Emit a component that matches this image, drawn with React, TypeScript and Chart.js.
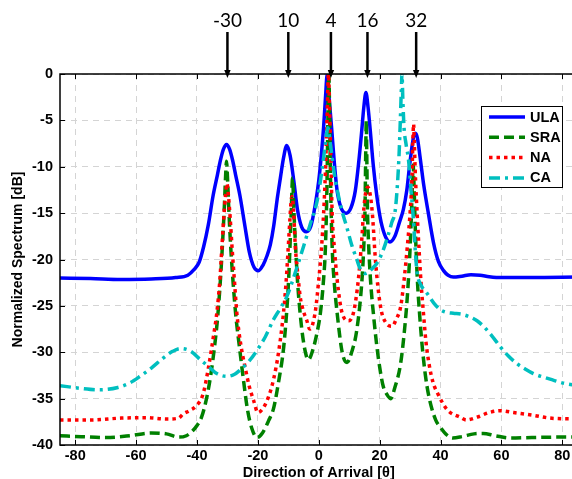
import React, { useEffect, useRef } from 'react';
import { Chart, registerables } from 'chart.js';

Chart.register(...registerables);

// ---------- data ----------
const seriesNames = ['ULA', 'SRA', 'NA', 'CA'];

const ulaAngles = [
  -85, -75, -65, -55, -47, -43, -41, -39.3, -37.8, -36.3,
  -34.7, -33.3, -32.3, -31.3, -30.3, -29.3, -28.3, -27.3, -25.9, -24.3,
  -22.8, -21.3, -19.8, -18.3, -17, -15.9, -14.8, -13.7, -12.6, -11.6,
  -10.5, -9.4, -8.2, -7, -5.6, -4.1, -2.6, -1.2, 0, 0.8,
  1.6, 2.2, 2.8, 3.4, 4.2, 5.1, 6, 7.3, 9, 10.6,
  12, 13.1, 14.1, 14.8, 15.5, 16.2, 16.9, 17.9, 19.1, 20.5,
  22, 23.4, 25, 26.5, 27.8, 28.9, 29.8, 30.6, 31.2, 31.8,
  32.4, 33.3, 34.5, 36, 37.7, 39.3, 41, 42.5, 44.2, 47,
  50, 53, 56, 60, 70, 85,
];
const ulaValues = [
  -22, -22.05, -22.15, -22.1, -21.95, -21.7, -21.1, -20.3, -18.6, -16.3,
  -13.1, -10.9, -9.3, -8.1, -7.6, -8.1, -9.3, -10.9, -13.1, -16.3,
  -19.2, -20.8, -21.2, -20.6, -19.6, -18.4, -16.4, -13.6, -11.2, -9.1,
  -7.7, -8.8, -11.5, -14.6, -16.5, -17, -16.4, -14.2, -11.5, -8.9,
  -5.7, -2.6, 0, -2.6, -5.7, -9.5, -12.5, -14.4, -15, -14.4,
  -12.6, -9.6, -6.2, -3.6, -2, -3.6, -6, -9.8, -13.2, -16,
  -17.6, -18.1, -17.5, -16, -14.6, -12.6, -10, -7.9, -6.7, -6.4,
  -6.9, -9, -12, -15, -18.2, -20.2, -21.2, -21.7, -21.9, -21.8,
  -21.65, -21.7, -21.85, -21.95, -21.95, -21.9,
];

const sraAngles = [
  -85, -78, -70, -62, -55, -50, -46, -43.5, -41.5, -40,
  -38.5, -37, -35.5, -34.2, -33.2, -32.3, -31.6, -31, -30.6, -30.3,
  -30, -29.6, -29, -28.2, -27.2, -26.1, -24.8, -23.4, -22, -20.3,
  -18.5, -16.5, -14.8, -13.2, -11.5, -10.4, -9.9, -9.4, -9, -8.6,
  -8.2, -7.7, -7, -6, -5, -4, -3.4, -2, -0.5, 0.6,
  1.5, 2.2, 2.7, 3, 3.3, 3.6, 3.9, 4.4, 5.1, 6.05,
  7.7, 9.3, 10.8, 12.5, 14.2, 14.8, 15.2, 15.45, 15.6, 15.75,
  16, 16.4, 17, 18, 19.1, 20.2, 21.2, 22.3, 23.6, 25,
  26.9, 28.2, 29.1, 29.9, 30.4, 30.75, 31, 31.3, 31.7, 32.4,
  33.2, 34, 35, 36.2, 38.4, 40, 42, 44, 47, 51,
  54, 58, 63, 70, 78, 85,
];
const sraValues = [
  -39, -39.1, -39.2, -39, -38.7, -38.8, -39.15, -39, -38.5, -37.9,
  -37, -35.2, -32.5, -29.3, -26.2, -22.2, -18.2, -14.2, -11, -9.4,
  -11, -14.2, -18.2, -22.2, -26.2, -29.3, -32.8, -36.2, -38.2, -39.2,
  -38.7, -37.4, -36, -33.2, -29.4, -25, -22.2, -18.2, -14.5, -11.2,
  -14.5, -18, -22.2, -26.2, -28.9, -30.5, -30.8, -29.8, -27.8, -25.6,
  -22.5, -18.6, -12, -5, 0, -5, -12, -18.6, -22.5, -25.8,
  -30, -31.1, -30, -27.6, -22.2, -18.5, -14.5, -8, -5, -8,
  -14.5, -18.5, -22.2, -26, -29.4, -32, -33.7, -34.5, -35, -33.8,
  -31.2, -27.5, -24, -19.5, -15.5, -12, -9.8, -12, -16.5, -22.2,
  -26.2, -29.4, -32.4, -34.8, -37.3, -38.1, -38.9, -39.25, -39.1, -38.8,
  -38.75, -39, -39.25, -39.2, -39.15, -39.15,
];

const naAngles = [
  -85, -75, -65, -57, -50, -46, -44.7, -42.5, -40.3, -38,
  -36.2, -34.7, -33.5, -32.5, -31.8, -31.2, -30.6, -30.15, -29.7, -29.1,
  -28.5, -27.7, -26.9, -25.6, -24.2, -22.8, -21.4, -20, -18.2, -16.5,
  -14.9, -13.2, -11.6, -10.7, -10, -9.5, -9.1, -8.8, -8.5, -8.1,
  -7.7, -6.9, -6.1, -5, -3.9, -3, -2.2, -1, 0, 0.9,
  1.6, 2.2, 2.7, 3.2, 3.5, 3.9, 4.4, 5.2, 6.05, 7.7,
  9.9, 11.5, 13, 14.1, 14.7, 15.4, 16.1, 16.8, 17.6, 18.7,
  20.3, 22, 24.1, 25.5, 26.9, 28.1, 29.1, 30.1, 30.6, 30.9,
  31.15, 31.4, 31.8, 32.4, 32.9, 33.6, 34.4, 35.2, 36.2, 37.5,
  39, 42.2, 46.4, 48.5, 52, 56, 59.6, 64, 70.5, 76,
  85,
];
const naValues = [
  -37.3, -37.3, -37.1, -37.05, -37.2, -37.1, -36.7, -36.3, -35.8, -34.5,
  -31.6, -28.5, -25.8, -22.3, -18.6, -15.5, -13, -11.8, -13, -15.5,
  -18.6, -22.3, -25.8, -29.2, -31.6, -33.7, -35.2, -36.5, -36, -34.8,
  -33, -30, -25.8, -22.3, -18.6, -15.8, -13.8, -13.2, -13.8, -15.8,
  -18.6, -21.5, -24, -25.6, -26.6, -27.5, -27.2, -25.3, -22.2, -18.8,
  -15, -10.5, -5, 0, -3, -8, -15, -19, -22.2, -25.8,
  -26.6, -25.6, -22.2, -18, -15, -12.8, -12.2, -12.8, -15, -20.4,
  -25.1, -26.8, -27.2, -26.4, -25.1, -22, -18.6, -14.5, -11.4, -7.5,
  -5.4, -7.5, -11.4, -15.5, -18.6, -22.5, -25.8, -28.8, -31.2, -33.2,
  -34.4, -36.2, -37, -37.3, -37, -36.5, -36.3, -36.5, -36.8, -37.1,
  -37.2,
];

const caAngles = [
  -85, -78, -72, -66, -62, -58.7, -55, -51, -48, -45.5,
  -42, -38.9, -36, -33.5, -30.2, -27.8, -25.8, -23, -20.3, -17.5,
  -14.9, -12.5, -10.5, -7.8, -5, -2.8, -0.6, 1, 2.2, 3,
  3.8, 5, 5.9, 7.5, 9.2, 10.8, 12.5, 13.6, 15.2, 16.5,
  17.8, 19.1, 20.8, 22.4, 24, 25.2, 26.3, 26.8, 27.1, 27.35,
  27.6, 28, 28.7, 29.5, 30.3, 31.1, 31.7, 32.3, 33.5, 35.5,
  37.8, 39.9, 42, 44.2, 47, 49.7, 52, 54.1, 56.8, 59.6,
  62.3, 65, 67.8, 70.5, 74, 77, 80, 85,
];
const caValues = [
  -33.6, -33.9, -34.05, -33.8, -33.3, -32.6, -31.7, -30.6, -29.9, -29.6,
  -29.9, -30.8, -31.6, -32.3, -32.6, -32.4, -31.9, -31, -29.8, -28.3,
  -26.5, -25.2, -24, -21.5, -18.6, -16.2, -13.8, -10.5, -7.5, -5.8,
  -7.5, -10.5, -12.2, -14.6, -16.5, -18.4, -20, -21, -21.5, -21.3,
  -20.9, -20.4, -19.3, -17.8, -16, -14.5, -9.3, -5, -2, 0,
  -2.5, -5.7, -7.6, -9.3, -12.5, -15.7, -19, -21.4, -22.7, -23.6,
  -24.7, -25.4, -25.7, -25.8, -25.9, -26.2, -26.6, -27.2, -28.2, -29.4,
  -30.4, -31.2, -31.8, -32.3, -32.7, -33, -33.3, -33.6,
];

const xTickValues = [-80, -60, -40, -20, 0, 20, 40, 60, 80];
const arrowAngles = [-30, -10, 4, 16, 32];
const arrowLabels = ['-30', '10', '4', '16', '32'];

// ---------- helpers ----------
const toPoints = (xs: number[], ys: number[]) => xs.map((x, i) => ({ x, y: ys[i] }));
const FONT = '"Liberation Sans", Arial, Helvetica, sans-serif';

const framePlugin = {
  id: 'frame',
  afterDatasetsDraw(chart: any) {
    const { ctx, chartArea: a, scales } = chart;
    const x = scales.x;
    const y = scales.y;
    ctx.save();
    ctx.strokeStyle = '#000';
    ctx.lineWidth = 1;
    ctx.setLineDash([]);
    const tl = 5;
    ctx.beginPath();
    x.ticks.forEach((t: any) => {
      const px = Math.round(x.getPixelForValue(t.value)) + 0.5;
      ctx.moveTo(px, a.bottom);
      ctx.lineTo(px, a.bottom - tl);
      ctx.moveTo(px, a.top);
      ctx.lineTo(px, a.top + tl);
    });
    y.ticks.forEach((t: any) => {
      const py = Math.round(y.getPixelForValue(t.value)) + 0.5;
      ctx.moveTo(a.left, py);
      ctx.lineTo(a.left + tl, py);
      ctx.moveTo(a.right, py);
      ctx.lineTo(a.right - tl, py);
    });
    ctx.stroke();
    ctx.lineWidth = 1.5;
    ctx.beginPath();
    ctx.rect(a.left, a.top, a.right - a.left, a.bottom - a.top);
    ctx.stroke();
    ctx.restore();
  },
  afterDraw(chart: any) {
    const { ctx, chartArea: a, scales } = chart;
    const x = scales.x;
    ctx.save();
    // arrows with labels
    ctx.fillStyle = '#000';
    ctx.strokeStyle = '#000';
    ctx.font = '19px Lato, "Open Sans", sans-serif';
    ctx.textAlign = 'center';
    ctx.textBaseline = 'middle';
    arrowAngles.forEach((ang, i) => {
      const px = x.getPixelForValue(ang);
      ctx.fillText(arrowLabels[i], px, 21);
      ctx.lineWidth = 2.5;
      ctx.beginPath();
      ctx.moveTo(px, 32);
      ctx.lineTo(px, a.top - 2);
      ctx.stroke();
      ctx.beginPath();
      ctx.moveTo(px - 3.2, a.top - 4);
      ctx.lineTo(px + 3.2, a.top - 4);
      ctx.lineTo(px, a.top + 4);
      ctx.closePath();
      ctx.fill();
    });
    // legend box
    const bx = 481.5, by = 106.5, bw = 81, bh = 81;
    ctx.fillStyle = '#fff';
    ctx.fillRect(bx, by, bw, bh);
    ctx.lineWidth = 1;
    ctx.strokeStyle = '#000';
    ctx.strokeRect(bx, by, bw, bh);
    ctx.font = 'bold 14.5px ' + FONT;
    ctx.textAlign = 'left';
    ctx.textBaseline = 'middle';
    chart.data.datasets.forEach((ds: any, i: number) => {
      const ly = 117 + i * 20.3;
      ctx.strokeStyle = ds.borderColor;
      ctx.lineWidth = 3.5;
      ctx.setLineDash(ds.borderDash || []);
      ctx.beginPath();
      ctx.moveTo(489, ly);
      ctx.lineTo(525, ly);
      ctx.stroke();
      ctx.setLineDash([]);
      ctx.fillStyle = '#000';
      ctx.fillText(ds.label, 530, ly + 0.5);
    });
    ctx.restore();
  },
};

export default function App() {
  const ref = useRef<HTMLCanvasElement>(null);

  useEffect(() => {
    if (!ref.current) return;
    Chart.defaults.font.family = FONT;
    Chart.defaults.color = '#000';
    const common = {
      pointRadius: 0,
      pointHoverRadius: 0,
      borderWidth: 3.5,
      fill: false,
      cubicInterpolationMode: 'monotone' as const,
    };
    const chart = new Chart(ref.current, {
      type: 'line',
      data: {
        datasets: [
          { ...common, label: seriesNames[0], data: toPoints(ulaAngles, ulaValues), borderColor: '#0000ff', order: 4 },
          { ...common, label: seriesNames[1], data: toPoints(sraAngles, sraValues), borderColor: '#008000', borderDash: [10, 5], order: 3 },
          { ...common, label: seriesNames[2], data: toPoints(naAngles, naValues), borderColor: '#ff0000', borderDash: [3.5, 4], order: 2 },
          { ...common, label: seriesNames[3], data: toPoints(caAngles, caValues), borderColor: '#00bfbf', borderDash: [11, 5, 3, 5], order: 1 },
        ],
      },
      options: {
        responsive: false,
        animation: false,
        devicePixelRatio: 1,
        layout: { padding: { top: 74, right: 12.5, bottom: 0, left: 0 } },
        plugins: {
          legend: { display: false },
          tooltip: { enabled: false },
          title: { display: false },
        },
        scales: {
          x: {
            type: 'linear',
            min: -85,
            max: 85,
            afterBuildTicks: (scale: any) => {
              scale.ticks = xTickValues.map((v) => ({ value: v }));
            },
            afterFit: (scale: any) => {
              scale.height = 38;
            },
            ticks: {
              padding: 2,
              maxRotation: 0,
              autoSkip: false,
              font: { size: 14.5, weight: 'bold' },
              callback: (v: any) => String(v),
            },
            grid: { color: '#d4d4d4', lineWidth: 1, drawTicks: false },
            border: { display: false, dash: [6, 5] },
            title: {
              display: true,
              text: 'Direction of Arrival [θ]',
              font: { size: 14.5, weight: 'bold' },
              padding: { top: 0, bottom: 1.5 },
            },
          },
          y: {
            type: 'linear',
            min: -40,
            max: 0,
            afterFit: (scale: any) => {
              scale.width = 60;
            },
            ticks: {
              stepSize: 5,
              padding: 7,
              font: { size: 14.5, weight: 'bold' },
              callback: (v: any) => String(v),
            },
            grid: { color: '#d4d4d4', lineWidth: 1, drawTicks: false },
            border: { display: false, dash: [6, 5] },
            title: {
              display: true,
              text: 'Normalized Spectrum [dB]',
              font: { size: 14, weight: 'bold' },
              padding: { top: 10, bottom: 0 },
            },
          },
        },
      },
      plugins: [framePlugin],
    });
    return () => chart.destroy();
  }, []);

  return (
    <div
      style={{
        position: 'fixed',
        left: 0,
        top: 0,
        width: 572,
        height: 479,
        overflow: 'hidden',
        background: '#fff',
      }}
    >
      <canvas ref={ref} width={590} height={483} style={{ display: 'block', width: 590, height: 483 }} />
    </div>
  );
}
